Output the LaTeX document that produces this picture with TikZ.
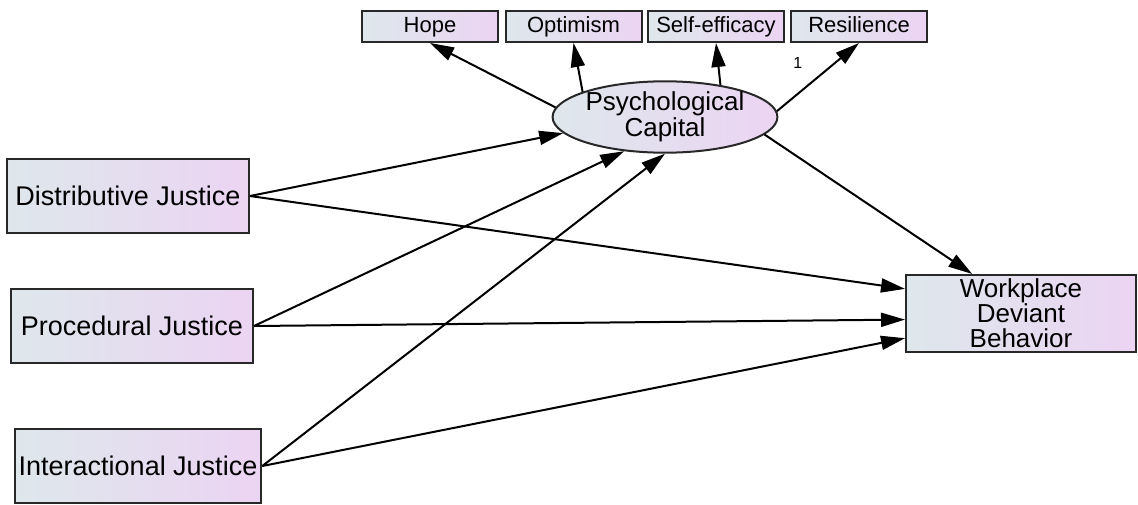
\documentclass[tikz,border=0pt]{standalone}
\usepackage{fontspec}
\setmainfont{Liberation Sans}
\usetikzlibrary{arrows.meta, shapes.geometric}
\definecolor{boxleft}{RGB}{222,231,236}
\definecolor{boxright}{RGB}{236,212,243}
\definecolor{boxline}{RGB}{40,40,40}

\begin{document}
\begin{tikzpicture}[
        x=0.5pt, y=-0.5pt,
        box/.style = {draw=boxline, rectangle, line width=1pt, left color=boxleft, right color=boxright, align=center, inner sep=2pt},
        construct/.style = {box, minimum width=121pt, minimum height=37pt, font=\fontsize{13.5}{12.5}\selectfont},
        indicator/.style = {box, minimum width=68pt, minimum height=15.5pt, text height=8pt, text depth=2.3pt, font=\fontsize{11}{12}\selectfont},
        latent/.style = {box, ellipse, minimum width=105pt, minimum height=31pt, inner sep=0pt, font=\fontsize{13}{12}\selectfont},
        arrow/.style = {draw=black, line width=1pt, -{Triangle[length=12pt, width=7pt]}}
    ]
        \useasboundingbox (0,0) rectangle (1138,504);

        % Indicators
        \node (hope) [indicator] at (430,26.5) {Hope};
        \node (optim) [indicator] at (573.5,26.5) {Optimism};
        \node (selfeff) [indicator] at (716,26.5) {Self-efficacy};
        \node (resil) [indicator] at (859,26.5) {Resilience};

        % Mediator
        \node (psycap) [latent] at (665,117) {Psychological\\Capital};

        % Justice dimensions
        \node (dist) [construct] at (128,196) {Distributive Justice};
        \node (proc) [construct] at (132,326) {Procedural Justice};
        \node (inter) [construct] at (138,466) {Interactional Justice};

        % Outcome
        \node (work) [construct, minimum width=115pt, font=\fontsize{13}{12.5}\selectfont] at (1021,313.5) {Workplace\\Deviant\\Behavior};

        % Arrows
        \draw [arrow] (psycap.175) -- (hope.south);
        \draw [arrow] (psycap.163) -- (optim.south);
        \draw [arrow] (psycap.30) -- (selfeff.south);
        \draw [arrow] (psycap.3) -- node [pos=0.45, above left=2pt, font=\fontsize{8}{8}\selectfont] {1} (resil.south);

        \draw [arrow] (dist.east) -- (psycap.189);
        \draw [arrow] (proc.east) -- (psycap.220);
        \draw [arrow] (inter.east) -- (psycap.270);

        \draw [arrow] (dist.east) -- (work.168.5);
        \draw [arrow] (proc.east) -- (work.183);
        \draw [arrow] (inter.east) -- (work.192);
        \draw [arrow] (psycap.350) -- (work.141);

    \end{tikzpicture}
\end{document}
